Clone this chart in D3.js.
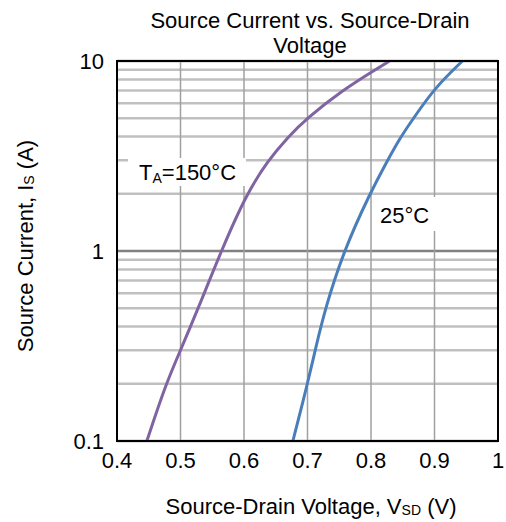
<!DOCTYPE html>
<html>
<head>
<meta charset="utf-8">
<script src="https://cdn.jsdelivr.net/npm/d3@7"></script>
<style>
	body { margin: 0; background: #fff; }
	text { font-family: "Liberation Sans", Arial, sans-serif; fill: #000; }
</style>
</head>
<body>
<div id="chart"></div>
<script>
// curve read-offs
const vsd150 = [0.447, 0.477, 0.5, 0.528, 0.564, 0.604, 0.638, 0.670, 0.699, 0.755, 0.800, 0.829];
const is150 = [0.1, 0.2, 0.3, 0.5, 1, 2, 3, 4, 5, 7, 8.7, 10];
const vsd25 = [0.677, 0.700, 0.712, 0.728, 0.757, 0.798, 0.826, 0.847, 0.867, 0.900, 0.944];
const is25 = [0.1, 0.2, 0.3, 0.5, 1, 2, 3, 4, 5, 7.2, 10];
const xTicks = [0.4, 0.5, 0.6, 0.7, 0.8, 0.9, 1];
const yTicks = [0.1, 1, 10];

const margin = {top: 61, left: 117, right: 8, bottom: 81};
const width = 506 - margin.left - margin.right,
	height = 522 - margin.top - margin.bottom;

let svg = d3.select('#chart').append('svg')
	.attr('width', 506)
	.attr('height', 522);

let xScale = d3.scaleLinear().domain([0.4, 1]).range([0, width]);
let yScale = d3.scaleLog().domain([0.1, 10]).range([height, 0]);

let g = svg.append('g')
	.attr('transform', `translate(${margin.left},${margin.top})`);

// minor horizontal grid
let minor = [];
[0.1, 1].forEach(d => { for (let k = 2; k <= 9; k++) minor.push(d * k); });
g.selectAll('.minor').data(minor).enter().append('line')
	.attr('x1', 0).attr('x2', width)
	.attr('y1', d => yScale(d)).attr('y2', d => yScale(d))
	.attr('stroke', '#c0c0c0').attr('stroke-width', 2.5);

g.selectAll('.major').data(yTicks).enter().append('line')
	.attr('x1', 0).attr('x2', width)
	.attr('y1', d => yScale(d)).attr('y2', d => yScale(d))
	.attr('stroke', '#808080').attr('stroke-width', 2.5);

g.selectAll('.vgrid').data(xTicks).enter().append('line')
	.attr('x1', d => xScale(d)).attr('x2', d => xScale(d))
	.attr('y1', 0).attr('y2', height)
	.attr('stroke', '#a0a0a0').attr('stroke-width', 1.5);

// label boxes sit under the curves
g.append('rect').attr('x', 11).attr('y', 97).attr('width', 118).attr('height', 28).attr('fill', '#fff');
g.append('rect').attr('x', 255).attr('y', 136).attr('width', 65).attr('height', 34).attr('fill', '#fff');

// lines
let line = d3.line().curve(d3.curveBasis)
	.x(d => xScale(d[0])).y(d => yScale(d[1]));

g.append('path')
	.datum(vsd150.map((v, i) => [v, is150[i]]))
	.attr('d', line).attr('fill', 'none')
	.attr('stroke', '#8064a2').attr('stroke-width', 3);

g.append('path')
	.datum(vsd25.map((v, i) => [v, is25[i]]))
	.attr('d', line).attr('fill', 'none')
	.attr('stroke', '#4a7ebb').attr('stroke-width', 3);

let t1 = g.append('text').attr('x', 22).attr('y', 119).style('font-size', '22px');
t1.append('tspan').text('T');
t1.append('tspan').text('A').style('font-size', '14px').attr('dy', 3);
t1.append('tspan').text('=150°C').attr('dy', -3);

g.append('text').attr('x', 263).attr('y', 162).style('font-size', '22px').text('25°C');

// frame
g.append('rect').attr('width', width).attr('height', height)
	.attr('fill', 'none').attr('stroke', '#000').attr('stroke-width', 2);

// ticks
g.selectAll('.xl').data(xTicks).enter().append('text')
	.attr('x', d => xScale(d)).attr('y', height + 27)
	.attr('text-anchor', 'middle').style('font-size', '22px')
	.text(d => d);

g.selectAll('.yl').data(yTicks).enter().append('text')
	.attr('x', -13).attr('y', d => yScale(d) + 8)
	.attr('text-anchor', 'end').style('font-size', '22px')
	.text(d => d);

// titles
svg.append('text').attr('x', 310).attr('y', 28).attr('text-anchor', 'middle')
	.style('font-size', '22px').text('Source Current vs. Source-Drain');
svg.append('text').attr('x', 310).attr('y', 53).attr('text-anchor', 'middle')
	.style('font-size', '22px').text('Voltage');

let xt = svg.append('text').attr('x', 311).attr('y', 514).attr('text-anchor', 'middle').style('font-size', '22px');
xt.append('tspan').text('Source-Drain Voltage, V');
xt.append('tspan').text('SD').style('font-size', '14px').attr('dy', 1);
xt.append('tspan').text(' (V)').attr('dy', -1);

let yt = svg.append('text').attr('transform', 'translate(33,246) rotate(-90)')
	.attr('text-anchor', 'middle').style('font-size', '22px');
yt.append('tspan').text('Source Current, I');
yt.append('tspan').text('S').style('font-size', '14px').attr('dy', 1);
yt.append('tspan').text(' (A)').attr('dy', -1);
</script>
</body>
</html>
